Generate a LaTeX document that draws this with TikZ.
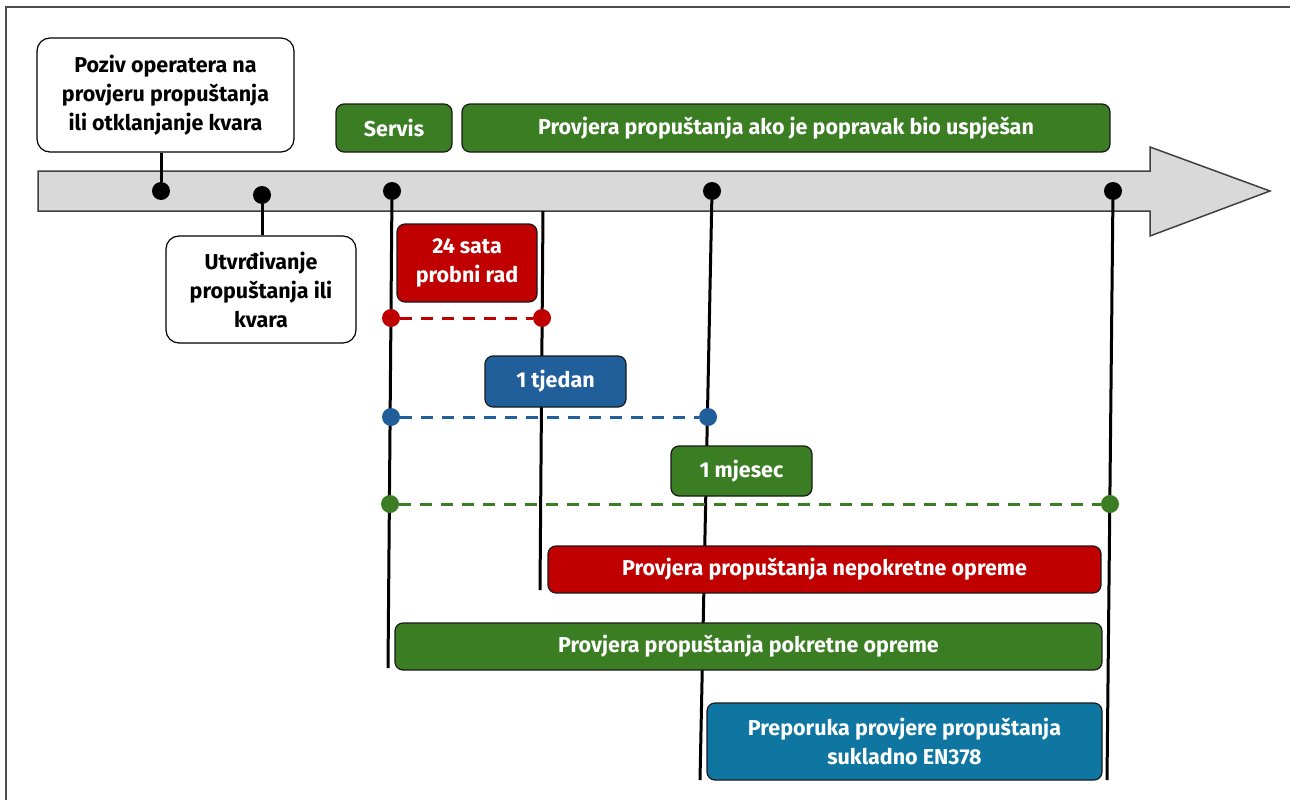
\documentclass[tikz,border=0pt]{standalone}
\usepackage{fontspec}
\setmainfont{Fira Sans}
\usetikzlibrary{backgrounds}
\definecolor{barred}{HTML}{C00000}
\definecolor{bargreen}{HTML}{3B7D23}
\definecolor{barblue}{HTML}{215F9A}
\definecolor{barteal}{HTML}{0F76A2}
\definecolor{axisgray}{HTML}{D9D9D9}
\tikzset{
  callout/.style={draw=black,line width=1.2pt,rounded corners=13pt,fill=white},
  bar/.style={draw=black!90,line width=1.2pt,rounded corners=8pt,text=white},
  dot/.style={circle,fill=black,minimum size=18pt},
  mark dot/.style={circle,minimum size=18pt},
  stem/.style={line width=3pt},
  span/.style={line width=3pt,dash pattern=on 12pt off 9pt}
}

\begin{document}
\begin{tikzpicture}[x=1pt,y=-1pt,
    every node/.style={inner sep=0pt,align=center,font=\fontsize{21.5}{29}\selectfont\bfseries}]
        \useasboundingbox (0,0) rectangle (1290,800);
        \draw [black!70,line width=1.5pt] (1290,7) -- (6,7) -- (6,800);
        \coordinate (p1) at (161,191);
        \coordinate (p2) at (262,195);
        \coordinate (p3) at (392,191);
        \coordinate (p4) at (712,191);
        \coordinate (p5) at (1113,191);
        \coordinate (p6) at (543,211);
        \coordinate (e3) at (388,668);
        \coordinate (e4) at (700,780);
        \coordinate (e5) at (1107,780);
        \coordinate (e6) at (540,590);
        \node [callout,minimum width=257pt,minimum height=114pt] (poziv) at (165.5,95) {Poziv operatera na\\provjeru propuštanja\\ili otklanjanje kvara};
        \node [callout,minimum width=190pt,minimum height=107pt] (utvrd) at (261,289.5) {Utvrđivanje\\propuštanja ili\\kvara};
        \node [bar,fill=bargreen,minimum width=116pt,minimum height=48pt] (servis) at (394,128) {Servis};
        \node [bar,fill=bargreen,minimum width=648pt,minimum height=48pt] (uspjeh) at (786,128) {Provjera propuštanja ako je popravak bio uspješan};
        \node [bar,fill=barred,minimum width=140pt,minimum height=78pt] (sata) at (467,263) {24 sata\\probni rad};
        \node [bar,fill=barblue,minimum width=141pt,minimum height=51pt] (tjedan) at (555.5,381.5) {1 tjedan};
        \node [bar,fill=bargreen,minimum width=141pt,minimum height=50pt] (mjesec) at (741.5,471) {1 mjesec};
        \node [bar,fill=barred,minimum width=553pt,minimum height=47pt] (nepokr) at (824.5,569.5) {Provjera propuštanja nepokretne opreme};
        \node [bar,fill=bargreen,minimum width=707pt,minimum height=47pt] (pokr) at (748.5,646.5) {Provjera propuštanja pokretne opreme};
        \node [bar,fill=barteal,minimum width=395pt,minimum height=77pt] (prep) at (904.5,741.5) {Preporuka provjere propuštanja\\sukladno EN378};
        \node [dot] (d1) at (p1) {};
        \node [dot] (d2) at (p2) {};
        \node [dot] (d3) at (p3) {};
        \node [dot] (d4) at (p4) {};
        \node [dot] (d5) at (p5) {};
        \node [mark dot,fill=barred] (r1) at (391,318) {};
        \node [mark dot,fill=barred] (r2) at (542,318) {};
        \node [mark dot,fill=barblue] (b1) at (391,417) {};
        \node [mark dot,fill=barblue] (b2) at (708,417) {};
        \node [mark dot,fill=bargreen] (g1) at (390,504) {};
        \node [mark dot,fill=bargreen] (g2) at (1110,504) {};
        \begin{scope}[on background layer]
        \draw [fill=axisgray,draw=black!75,line width=1.5pt] (38,171) -- (1150,171) -- (1150,147) -- (1270,191) -- (1150,236) -- (1150,211) -- (38,211) -- cycle;
        \draw [stem] (d1) -- (d1 |- poziv.south);
        \draw [stem] (d2) -- (d2 |- utvrd.north);
        \draw [stem] (d3) -- (e3);
        \draw [stem] (d4) -- (e4);
        \draw [stem] (d5) -- (e5);
        \draw [stem] (p6) -- (e6);
        \draw [span,barred] (r1) -- (r2);
        \draw [span,barblue] (b1) -- (b2);
        \draw [span,bargreen] (g1) -- (g2);
        \end{scope}
\end{tikzpicture}
\end{document}
